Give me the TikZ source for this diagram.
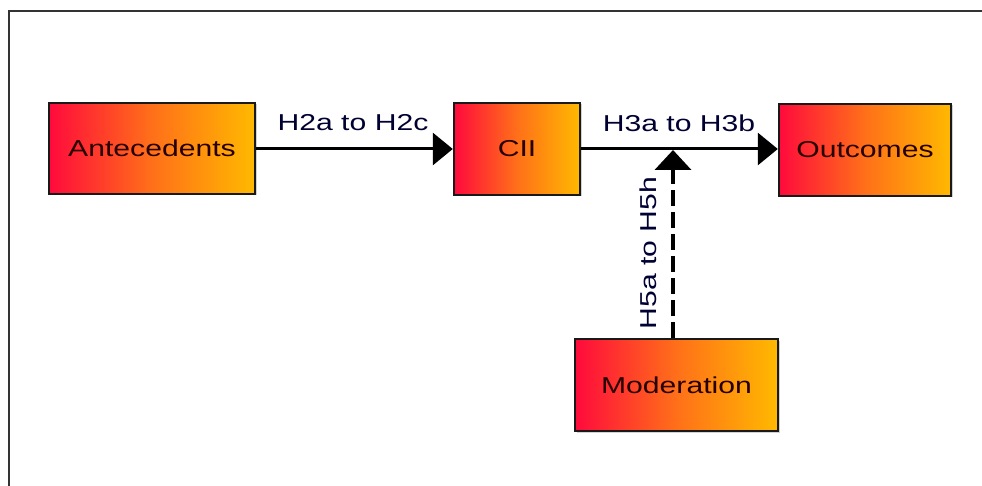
\documentclass[tikz,border=0pt]{standalone}
\usepackage{fontspec}
\setmainfont{Liberation Sans}[FakeStretch=1.31]
\usetikzlibrary{arrows.meta,shadows}
\definecolor{gleft}{RGB}{255,10,60}
\definecolor{gmid}{RGB}{255,112,25}
\definecolor{gright}{RGB}{255,185,0}
\tikzset{
  box/.style={draw=black!90, line width=2.4pt, left color=gleft, right color=gright, middle color=gmid,
    inner sep=0pt, font=\fontsize{23}{26}\selectfont, text=black!85!red,
    drop shadow={shadow xshift=1.5pt, shadow yshift=-1.5pt, opacity=0.35}},
  conn/.style={line width=3pt, -{Triangle[length=20pt,width=32pt]}},
  modconn/.style={line width=4pt, dash pattern=on 16pt off 6pt, -{Triangle[length=20pt,width=36pt]}},
  lbl/.style={font=\fontsize{23}{26}\selectfont, text=black!80!blue}
}
\begin{document}
\begin{tikzpicture}[x=1pt,y=-1pt]
\useasboundingbox (0,0) rectangle (982,486);
\fill[white] (0,0) rectangle (982,486);
\draw[line width=2.2pt, black!80] (982,11) -- (9,11) -- (9,486);
\node[box, minimum width=206pt, minimum height=91pt] (ante) at (152,148.5) {Antecedents};
\node[box, minimum width=126pt, minimum height=92pt] (cii) at (517,149) {CII};
\node[box, minimum width=172pt, minimum height=92pt] (out) at (865,150) {Outcomes};
\node[box, minimum width=203pt, minimum height=92pt] (mod) at (676.5,385) {Moderation};
\coordinate (mid) at (673,150);
\draw[conn] (ante.east |- 0,149) -- (cii.west |- 0,149);
\draw[conn] (cii.east |- 0,149) -- (out.west |- 0,149);
\draw[modconn] (mod.north -| mid) -- (mid);
\node[lbl] (l1) at (353,123) {H2a to H2c};
\node[lbl] (l2) at (679,123) {H3a to H3b};
\node[lbl, rotate=90] (l3) at (648,253) {H5a to H5h};
\end{tikzpicture}
\end{document}
